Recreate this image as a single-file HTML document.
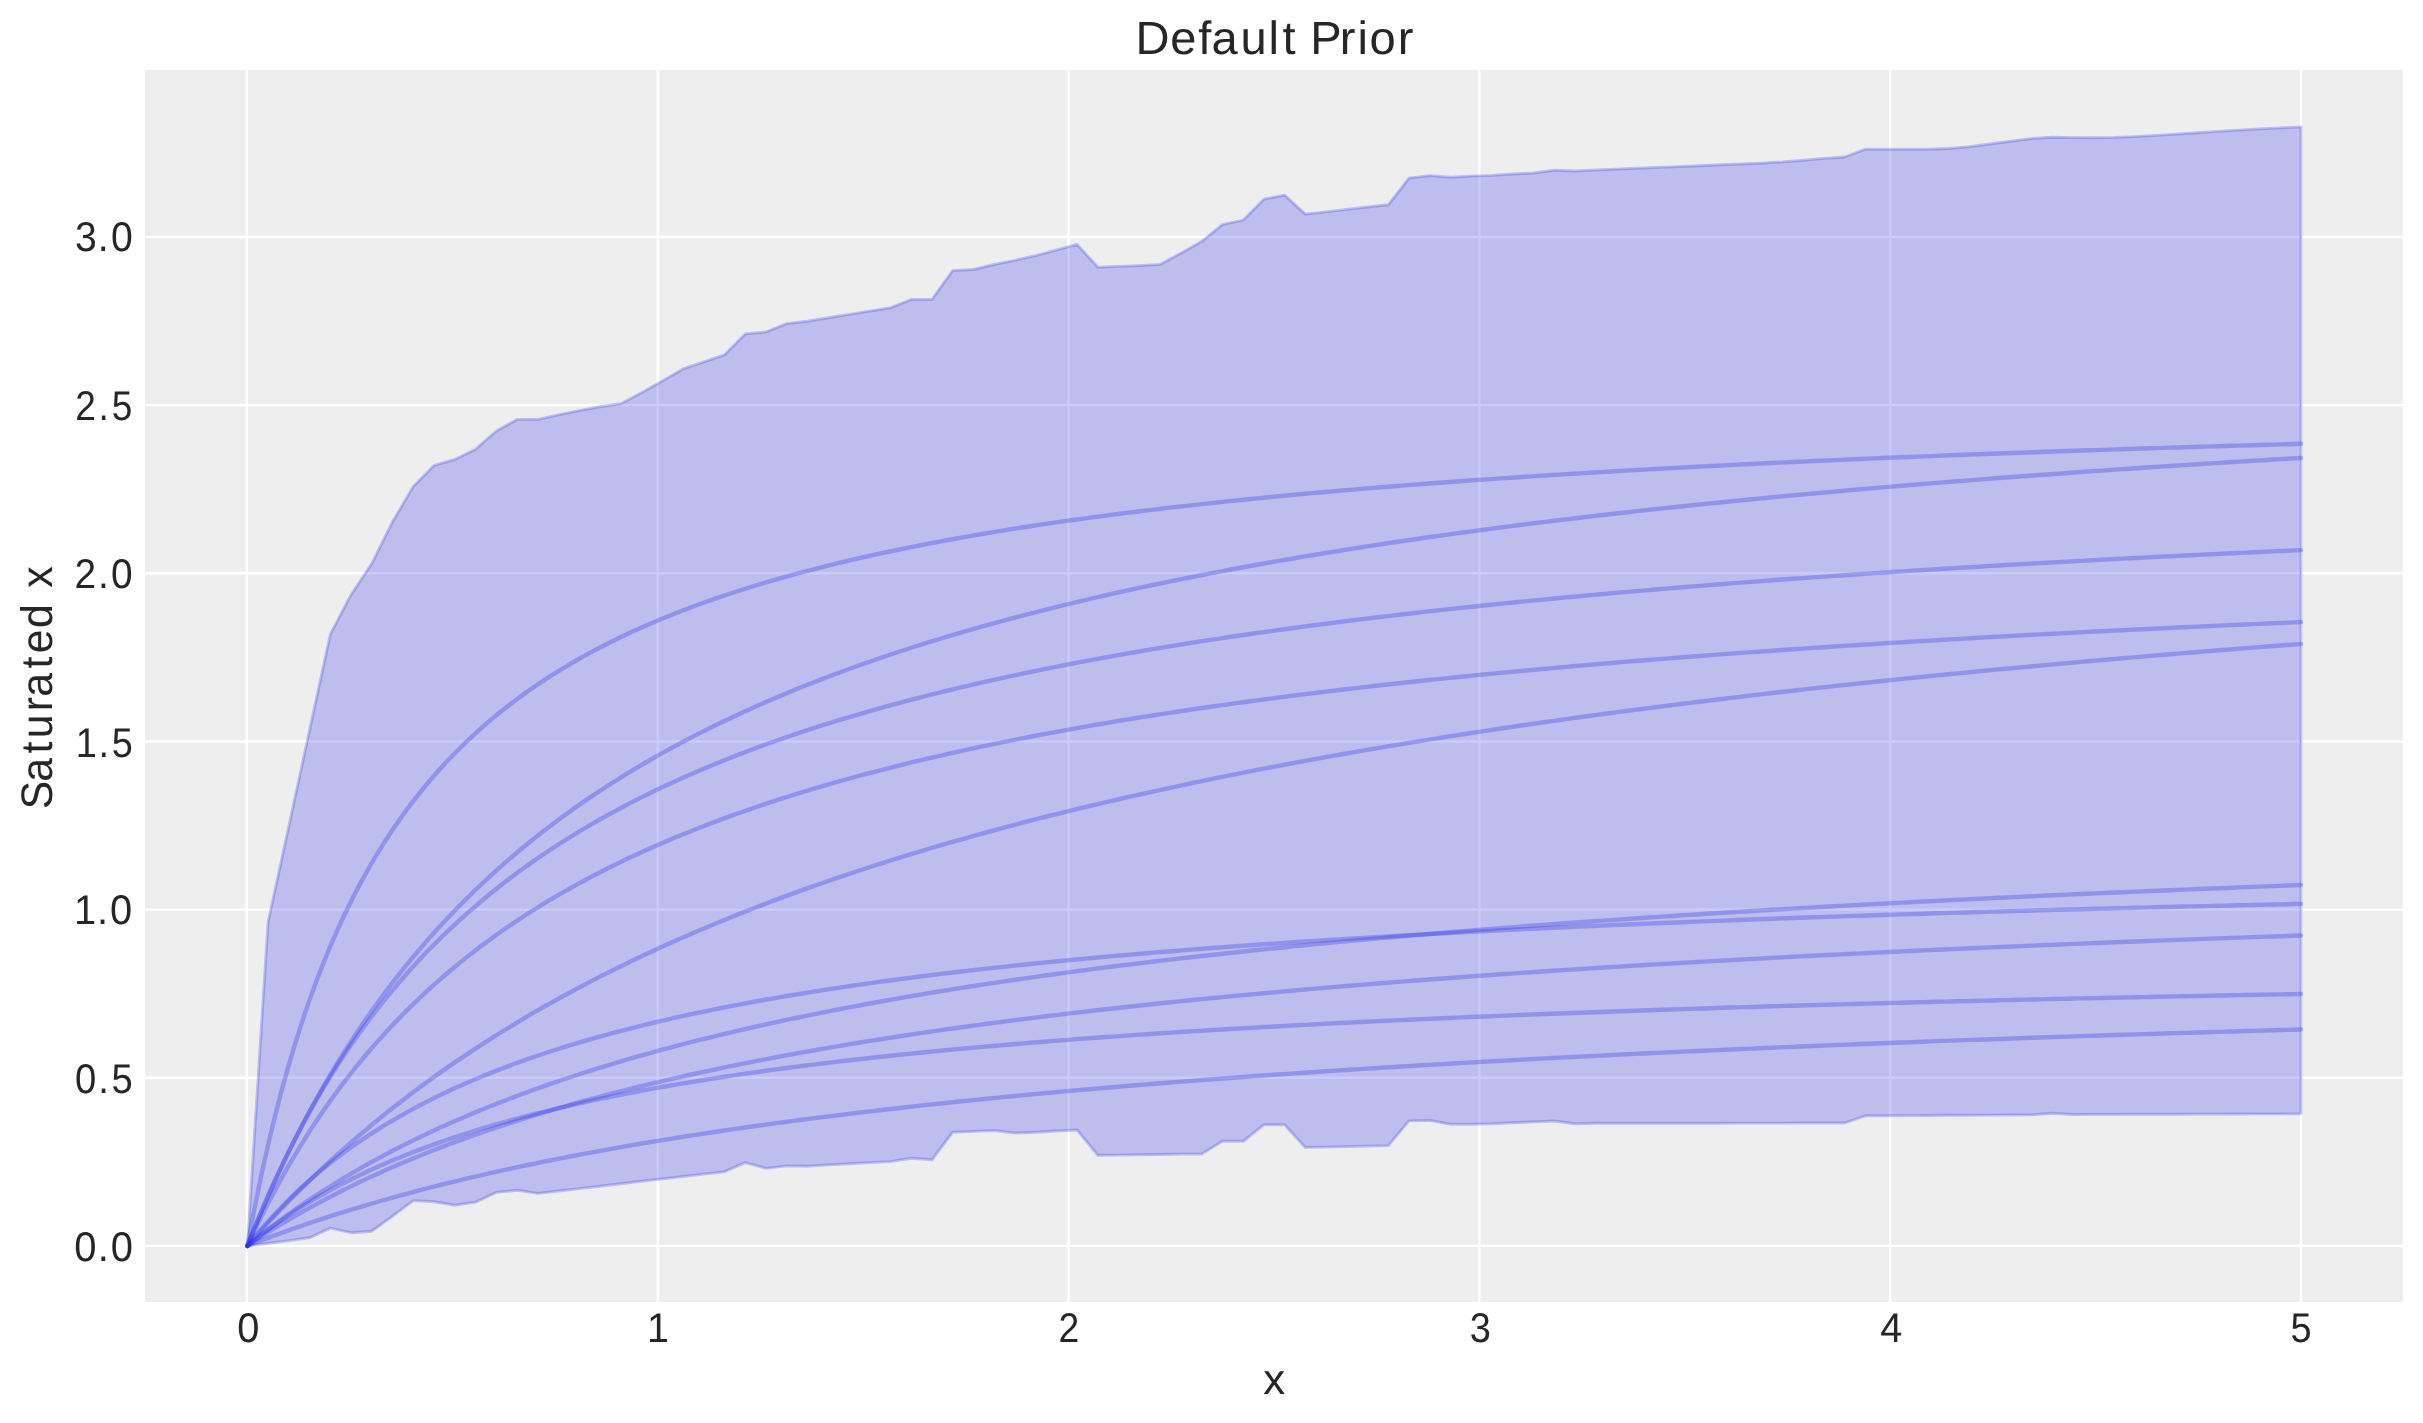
<!DOCTYPE html>
<html><head><meta charset="utf-8"><style>
html,body{margin:0;padding:0;background:#fff;width:2423px;height:1423px;overflow:hidden;font-family:"Liberation Sans",sans-serif}
svg{display:block;will-change:transform} text{text-rendering:geometricPrecision}
</style></head><body>
<svg width="2423" height="1423" viewBox="0 0 2423 1423">
<rect width="2423" height="1423" fill="#fff"/>
<rect x="145" y="70" width="2258" height="1232" fill="#eeeeee"/>
<line x1="246.90" y1="70" x2="246.90" y2="1302" stroke="#fff" stroke-width="2.4"/>
<line x1="657.72" y1="70" x2="657.72" y2="1302" stroke="#fff" stroke-width="2.4"/>
<line x1="1068.54" y1="70" x2="1068.54" y2="1302" stroke="#fff" stroke-width="2.4"/>
<line x1="1479.36" y1="70" x2="1479.36" y2="1302" stroke="#fff" stroke-width="2.4"/>
<line x1="1890.18" y1="70" x2="1890.18" y2="1302" stroke="#fff" stroke-width="2.4"/>
<line x1="2301.00" y1="70" x2="2301.00" y2="1302" stroke="#fff" stroke-width="2.4"/>
<line x1="145" y1="1245.90" x2="2403" y2="1245.90" stroke="#fff" stroke-width="2.4"/>
<line x1="145" y1="1077.75" x2="2403" y2="1077.75" stroke="#fff" stroke-width="2.4"/>
<line x1="145" y1="909.60" x2="2403" y2="909.60" stroke="#fff" stroke-width="2.4"/>
<line x1="145" y1="741.45" x2="2403" y2="741.45" stroke="#fff" stroke-width="2.4"/>
<line x1="145" y1="573.30" x2="2403" y2="573.30" stroke="#fff" stroke-width="2.4"/>
<line x1="145" y1="405.15" x2="2403" y2="405.15" stroke="#fff" stroke-width="2.4"/>
<line x1="145" y1="237.00" x2="2403" y2="237.00" stroke="#fff" stroke-width="2.4"/>
<polygon points="247.4,1245.9 268.1,922.0 288.9,826.0 309.6,730.1 330.4,634.1 351.1,594.7 371.9,563.4 392.6,521.7 413.3,486.5 434.1,465.4 454.8,459.5 475.6,449.2 496.3,431.0 517.1,419.4 537.8,419.4 558.6,414.8 579.3,410.6 600.0,406.8 620.8,403.8 641.5,392.8 662.3,380.9 683.0,368.9 703.8,361.9 724.5,354.8 745.2,333.9 766.0,332.0 786.7,323.6 807.5,321.3 828.2,317.7 849.0,314.4 869.7,311.1 890.4,307.8 911.2,299.5 931.9,299.5 952.7,270.6 973.4,269.5 994.2,264.5 1014.9,260.3 1035.7,255.7 1056.4,249.9 1077.1,244.4 1097.9,267.2 1118.6,266.4 1139.4,265.6 1160.1,264.4 1180.9,253.2 1201.6,241.6 1222.3,224.6 1243.1,220.2 1263.8,199.2 1284.6,195.1 1305.3,214.1 1326.1,211.9 1346.8,209.4 1367.5,207.0 1388.3,204.8 1409.0,178.1 1429.8,175.6 1450.5,177.3 1471.3,176.1 1492.0,175.4 1512.7,174.0 1533.5,173.0 1554.2,170.2 1575.0,171.0 1595.7,170.0 1616.5,169.1 1637.2,168.3 1658.0,167.4 1678.7,166.6 1699.4,165.7 1720.2,164.8 1740.9,164.0 1761.7,163.1 1782.4,161.9 1803.2,160.2 1823.9,158.4 1844.6,157.0 1865.4,149.2 1886.1,149.2 1906.9,149.2 1927.6,149.2 1948.4,148.5 1969.1,146.8 1989.8,144.0 2010.6,141.2 2031.3,138.6 2052.1,137.2 2072.8,137.6 2093.6,137.7 2114.3,137.4 2135.1,136.6 2155.8,135.4 2176.5,134.1 2197.3,132.8 2218.0,131.4 2238.8,130.1 2259.5,128.9 2280.3,127.9 2301.0,127.0 2301.0,1113.8 2280.3,1113.9 2259.5,1113.9 2238.8,1114.0 2218.0,1114.1 2197.3,1114.1 2176.5,1114.2 2155.8,1114.2 2135.1,1114.3 2114.3,1114.4 2093.6,1114.4 2072.8,1114.5 2052.1,1113.2 2031.3,1114.9 2010.6,1115.0 1989.8,1115.1 1969.1,1115.2 1948.4,1115.3 1927.6,1115.5 1906.9,1115.6 1886.1,1115.7 1865.4,1115.8 1844.6,1123.0 1823.9,1123.0 1803.2,1123.0 1782.4,1123.1 1761.7,1123.1 1740.9,1123.1 1720.2,1123.2 1699.4,1123.2 1678.7,1123.2 1658.0,1123.2 1637.2,1123.2 1616.5,1123.3 1595.7,1123.3 1575.0,1123.8 1554.2,1121.0 1533.5,1121.9 1512.7,1122.7 1492.0,1123.8 1471.3,1124.2 1450.5,1124.2 1429.8,1120.4 1409.0,1120.9 1388.3,1145.6 1367.5,1146.1 1346.8,1146.6 1326.1,1147.1 1305.3,1147.4 1284.6,1124.8 1263.8,1124.8 1243.1,1141.3 1222.3,1141.3 1201.6,1154.0 1180.9,1154.1 1160.1,1154.5 1139.4,1154.8 1118.6,1155.1 1097.9,1155.3 1077.1,1130.0 1056.4,1131.0 1035.7,1132.2 1014.9,1133.0 994.2,1130.5 973.4,1131.4 952.7,1132.2 931.9,1159.8 911.2,1158.2 890.4,1161.6 869.7,1162.6 849.0,1163.7 828.2,1164.9 807.5,1166.2 786.7,1165.9 766.0,1168.4 745.2,1162.6 724.5,1171.7 703.8,1174.1 683.0,1176.5 662.3,1178.9 641.5,1181.3 620.8,1183.8 600.0,1186.2 579.3,1188.6 558.6,1191.0 537.8,1193.4 517.1,1190.3 496.3,1192.4 475.6,1202.1 454.8,1205.2 434.1,1201.8 413.3,1200.6 392.6,1216.2 371.9,1231.2 351.1,1232.7 330.4,1228.1 309.6,1237.8 288.9,1240.6 268.1,1243.3 247.4,1245.9" fill="#2a2eec" fill-opacity="0.25" stroke="#2a2eec" stroke-opacity="0.25" stroke-width="2.9" stroke-linejoin="round"/>
<path d="M247.40,1245.90 L254.27,1209.49 L261.14,1176.03 L268.00,1145.17 L274.87,1116.62 L281.74,1090.13 L288.61,1065.49 L295.48,1042.51 L302.35,1021.03 L309.21,1000.90 L316.08,982.00 L322.95,964.22 L329.82,947.47 L336.69,931.66 L343.56,916.71 L350.42,902.55 L357.29,889.12 L364.16,876.37 L371.03,864.25 L377.90,852.71 L384.76,841.70 L391.63,831.21 L398.50,821.18 L405.37,811.59 L412.24,802.41 L419.11,793.62 L425.97,785.18 L432.84,777.09 L439.71,769.31 L446.58,761.84 L453.45,754.65 L460.32,747.73 L467.18,741.06 L474.05,734.63 L480.92,728.43 L487.79,722.44 L494.66,716.66 L501.52,711.07 L508.39,705.66 L515.26,700.43 L522.13,695.37 L529.00,690.46 L535.87,685.71 L542.73,681.10 L549.60,676.63 L556.47,672.29 L563.34,668.08 L570.21,663.99 L577.07,660.01 L583.94,656.15 L590.81,652.39 L597.68,648.73 L604.55,645.18 L611.42,641.71 L618.28,638.34 L625.15,635.05 L632.02,631.85 L638.89,628.72 L645.76,625.68 L652.63,622.71 L659.49,619.81 L666.36,616.98 L673.23,614.21 L680.10,611.52 L686.97,608.88 L693.83,606.30 L700.70,603.78 L707.57,601.32 L714.44,598.91 L721.31,596.56 L728.18,594.25 L735.04,592.00 L741.91,589.79 L748.78,587.63 L755.65,585.51 L762.52,583.44 L769.39,581.41 L776.25,579.42 L783.12,577.47 L789.99,575.55 L796.86,573.68 L803.73,571.84 L810.59,570.03 L817.46,568.26 L824.33,566.53 L831.20,564.82 L838.07,563.15 L844.94,561.51 L851.80,559.89 L858.67,558.31 L865.54,556.75 L872.41,555.22 L879.28,553.72 L886.15,552.25 L893.01,550.79 L899.88,549.37 L906.75,547.97 L913.62,546.59 L920.49,545.23 L927.35,543.90 L934.22,542.59 L941.09,541.30 L947.96,540.03 L954.83,538.78 L961.70,537.55 L968.56,536.33 L975.43,535.14 L982.30,533.97 L989.17,532.81 L996.04,531.68 L1002.91,530.55 L1009.77,529.45 L1016.64,528.36 L1023.51,527.29 L1030.38,526.24 L1037.25,525.19 L1044.11,524.17 L1050.98,523.16 L1057.85,522.16 L1064.72,521.18 L1071.59,520.21 L1078.46,519.25 L1085.32,518.31 L1092.19,517.38 L1099.06,516.47 L1105.93,515.56 L1112.80,514.67 L1119.66,513.79 L1126.53,512.92 L1133.40,512.07 L1140.27,511.22 L1147.14,510.38 L1154.01,509.56 L1160.87,508.75 L1167.74,507.94 L1174.61,507.15 L1181.48,506.37 L1188.35,505.60 L1195.22,504.83 L1202.08,504.08 L1208.95,503.33 L1215.82,502.60 L1222.69,501.87 L1229.56,501.15 L1236.42,500.45 L1243.29,499.74 L1250.16,499.05 L1257.03,498.37 L1263.90,497.69 L1270.77,497.02 L1277.63,496.36 L1284.50,495.71 L1291.37,495.06 L1298.24,494.43 L1305.11,493.79 L1311.98,493.17 L1318.84,492.55 L1325.71,491.94 L1332.58,491.34 L1339.45,490.74 L1346.32,490.15 L1353.18,489.57 L1360.05,488.99 L1366.92,488.42 L1373.79,487.86 L1380.66,487.30 L1387.53,486.74 L1394.39,486.20 L1401.26,485.66 L1408.13,485.12 L1415.00,484.59 L1421.87,484.06 L1428.74,483.55 L1435.60,483.03 L1442.47,482.52 L1449.34,482.02 L1456.21,481.52 L1463.08,481.03 L1469.94,480.54 L1476.81,480.05 L1483.68,479.57 L1490.55,479.10 L1497.42,478.63 L1504.29,478.16 L1511.15,477.70 L1518.02,477.25 L1524.89,476.80 L1531.76,476.35 L1538.63,475.90 L1545.49,475.47 L1552.36,475.03 L1559.23,474.60 L1566.10,474.17 L1572.97,473.75 L1579.84,473.33 L1586.70,472.92 L1593.57,472.50 L1600.44,472.10 L1607.31,471.69 L1614.18,471.29 L1621.05,470.89 L1627.91,470.50 L1634.78,470.11 L1641.65,469.73 L1648.52,469.34 L1655.39,468.96 L1662.25,468.59 L1669.12,468.21 L1675.99,467.84 L1682.86,467.48 L1689.73,467.11 L1696.60,466.75 L1703.46,466.40 L1710.33,466.04 L1717.20,465.69 L1724.07,465.34 L1730.94,465.00 L1737.81,464.66 L1744.67,464.32 L1751.54,463.98 L1758.41,463.65 L1765.28,463.31 L1772.15,462.99 L1779.01,462.66 L1785.88,462.34 L1792.75,462.02 L1799.62,461.70 L1806.49,461.38 L1813.36,461.07 L1820.22,460.76 L1827.09,460.45 L1833.96,460.15 L1840.83,459.84 L1847.70,459.54 L1854.57,459.24 L1861.43,458.95 L1868.30,458.65 L1875.17,458.36 L1882.04,458.07 L1888.91,457.79 L1895.77,457.50 L1902.64,457.22 L1909.51,456.94 L1916.38,456.66 L1923.25,456.38 L1930.12,456.11 L1936.98,455.84 L1943.85,455.57 L1950.72,455.30 L1957.59,455.03 L1964.46,454.77 L1971.33,454.50 L1978.19,454.24 L1985.06,453.98 L1991.93,453.73 L1998.80,453.47 L2005.67,453.22 L2012.53,452.97 L2019.40,452.72 L2026.27,452.47 L2033.14,452.23 L2040.01,451.98 L2046.88,451.74 L2053.74,451.50 L2060.61,451.26 L2067.48,451.02 L2074.35,450.79 L2081.22,450.55 L2088.08,450.32 L2094.95,450.09 L2101.82,449.86 L2108.69,449.63 L2115.56,449.40 L2122.43,449.18 L2129.29,448.96 L2136.16,448.73 L2143.03,448.51 L2149.90,448.29 L2156.77,448.08 L2163.64,447.86 L2170.50,447.65 L2177.37,447.43 L2184.24,447.22 L2191.11,447.01 L2197.98,446.80 L2204.84,446.60 L2211.71,446.39 L2218.58,446.18 L2225.45,445.98 L2232.32,445.78 L2239.19,445.58 L2246.05,445.38 L2252.92,445.18 L2259.79,444.98 L2266.66,444.79 L2273.53,444.59 L2280.40,444.40 L2287.26,444.21 L2294.13,444.01 L2301.00,443.82" fill="none" stroke="#2a2eec" stroke-opacity="0.3" stroke-width="4.4" stroke-linecap="round" stroke-linejoin="round"/>
<path d="M247.40,1245.90 L254.27,1228.84 L261.14,1212.39 L268.00,1196.53 L274.87,1181.21 L281.74,1166.43 L288.61,1152.14 L295.48,1138.32 L302.35,1124.95 L309.21,1112.01 L316.08,1099.48 L322.95,1087.34 L329.82,1075.57 L336.69,1064.15 L343.56,1053.08 L350.42,1042.32 L357.29,1031.88 L364.16,1021.73 L371.03,1011.87 L377.90,1002.27 L384.76,992.94 L391.63,983.86 L398.50,975.03 L405.37,966.42 L412.24,958.03 L419.11,949.86 L425.97,941.90 L432.84,934.13 L439.71,926.55 L446.58,919.16 L453.45,911.94 L460.32,904.90 L467.18,898.02 L474.05,891.30 L480.92,884.73 L487.79,878.31 L494.66,872.04 L501.52,865.90 L508.39,859.90 L515.26,854.03 L522.13,848.28 L529.00,842.66 L535.87,837.15 L542.73,831.76 L549.60,826.48 L556.47,821.30 L563.34,816.23 L570.21,811.26 L577.07,806.39 L583.94,801.62 L590.81,796.93 L597.68,792.34 L604.55,787.83 L611.42,783.41 L618.28,779.07 L625.15,774.81 L632.02,770.63 L638.89,766.52 L645.76,762.49 L652.63,758.52 L659.49,754.63 L666.36,750.81 L673.23,747.05 L680.10,743.36 L686.97,739.73 L693.83,736.16 L700.70,732.66 L707.57,729.20 L714.44,725.81 L721.31,722.47 L728.18,719.19 L735.04,715.96 L741.91,712.78 L748.78,709.65 L755.65,706.57 L762.52,703.54 L769.39,700.55 L776.25,697.61 L783.12,694.72 L789.99,691.87 L796.86,689.06 L803.73,686.29 L810.59,683.57 L817.46,680.88 L824.33,678.23 L831.20,675.63 L838.07,673.05 L844.94,670.52 L851.80,668.02 L858.67,665.56 L865.54,663.13 L872.41,660.73 L879.28,658.37 L886.15,656.04 L893.01,653.74 L899.88,651.47 L906.75,649.24 L913.62,647.03 L920.49,644.85 L927.35,642.70 L934.22,640.58 L941.09,638.48 L947.96,636.42 L954.83,634.38 L961.70,632.36 L968.56,630.37 L975.43,628.41 L982.30,626.47 L989.17,624.55 L996.04,622.66 L1002.91,620.79 L1009.77,618.94 L1016.64,617.12 L1023.51,615.31 L1030.38,613.53 L1037.25,611.77 L1044.11,610.04 L1050.98,608.32 L1057.85,606.62 L1064.72,604.94 L1071.59,603.28 L1078.46,601.64 L1085.32,600.02 L1092.19,598.41 L1099.06,596.83 L1105.93,595.26 L1112.80,593.71 L1119.66,592.18 L1126.53,590.66 L1133.40,589.16 L1140.27,587.68 L1147.14,586.21 L1154.01,584.76 L1160.87,583.33 L1167.74,581.91 L1174.61,580.50 L1181.48,579.11 L1188.35,577.74 L1195.22,576.37 L1202.08,575.03 L1208.95,573.69 L1215.82,572.37 L1222.69,571.07 L1229.56,569.78 L1236.42,568.50 L1243.29,567.23 L1250.16,565.98 L1257.03,564.73 L1263.90,563.50 L1270.77,562.29 L1277.63,561.08 L1284.50,559.89 L1291.37,558.71 L1298.24,557.54 L1305.11,556.38 L1311.98,555.23 L1318.84,554.09 L1325.71,552.97 L1332.58,551.85 L1339.45,550.75 L1346.32,549.65 L1353.18,548.57 L1360.05,547.49 L1366.92,546.43 L1373.79,545.38 L1380.66,544.33 L1387.53,543.30 L1394.39,542.27 L1401.26,541.25 L1408.13,540.25 L1415.00,539.25 L1421.87,538.26 L1428.74,537.28 L1435.60,536.30 L1442.47,535.34 L1449.34,534.39 L1456.21,533.44 L1463.08,532.50 L1469.94,531.57 L1476.81,530.65 L1483.68,529.73 L1490.55,528.83 L1497.42,527.93 L1504.29,527.03 L1511.15,526.15 L1518.02,525.27 L1524.89,524.40 L1531.76,523.54 L1538.63,522.69 L1545.49,521.84 L1552.36,521.00 L1559.23,520.16 L1566.10,519.34 L1572.97,518.52 L1579.84,517.70 L1586.70,516.90 L1593.57,516.10 L1600.44,515.30 L1607.31,514.51 L1614.18,513.73 L1621.05,512.95 L1627.91,512.19 L1634.78,511.42 L1641.65,510.66 L1648.52,509.91 L1655.39,509.17 L1662.25,508.43 L1669.12,507.69 L1675.99,506.96 L1682.86,506.24 L1689.73,505.52 L1696.60,504.81 L1703.46,504.10 L1710.33,503.40 L1717.20,502.70 L1724.07,502.01 L1730.94,501.33 L1737.81,500.65 L1744.67,499.97 L1751.54,499.30 L1758.41,498.63 L1765.28,497.97 L1772.15,497.31 L1779.01,496.66 L1785.88,496.02 L1792.75,495.37 L1799.62,494.73 L1806.49,494.10 L1813.36,493.47 L1820.22,492.85 L1827.09,492.23 L1833.96,491.61 L1840.83,491.00 L1847.70,490.39 L1854.57,489.79 L1861.43,489.19 L1868.30,488.60 L1875.17,488.01 L1882.04,487.42 L1888.91,486.84 L1895.77,486.26 L1902.64,485.69 L1909.51,485.12 L1916.38,484.55 L1923.25,483.99 L1930.12,483.43 L1936.98,482.87 L1943.85,482.32 L1950.72,481.77 L1957.59,481.23 L1964.46,480.69 L1971.33,480.15 L1978.19,479.62 L1985.06,479.09 L1991.93,478.56 L1998.80,478.04 L2005.67,477.52 L2012.53,477.00 L2019.40,476.49 L2026.27,475.98 L2033.14,475.47 L2040.01,474.97 L2046.88,474.47 L2053.74,473.97 L2060.61,473.47 L2067.48,472.98 L2074.35,472.50 L2081.22,472.01 L2088.08,471.53 L2094.95,471.05 L2101.82,470.57 L2108.69,470.10 L2115.56,469.63 L2122.43,469.16 L2129.29,468.70 L2136.16,468.24 L2143.03,467.78 L2149.90,467.32 L2156.77,466.87 L2163.64,466.42 L2170.50,465.97 L2177.37,465.53 L2184.24,465.09 L2191.11,464.65 L2197.98,464.21 L2204.84,463.77 L2211.71,463.34 L2218.58,462.91 L2225.45,462.49 L2232.32,462.06 L2239.19,461.64 L2246.05,461.22 L2252.92,460.80 L2259.79,460.39 L2266.66,459.98 L2273.53,459.57 L2280.40,459.16 L2287.26,458.75 L2294.13,458.35 L2301.00,457.95" fill="none" stroke="#2a2eec" stroke-opacity="0.3" stroke-width="4.4" stroke-linecap="round" stroke-linejoin="round"/>
<path d="M247.40,1245.90 L254.27,1228.51 L261.14,1211.85 L268.00,1195.89 L274.87,1180.59 L281.74,1165.89 L288.61,1151.77 L295.48,1138.19 L302.35,1125.12 L309.21,1112.54 L316.08,1100.42 L322.95,1088.73 L329.82,1077.44 L336.69,1066.55 L343.56,1056.03 L350.42,1045.85 L357.29,1036.01 L364.16,1026.49 L371.03,1017.27 L377.90,1008.34 L384.76,999.68 L391.63,991.28 L398.50,983.14 L405.37,975.23 L412.24,967.56 L419.11,960.10 L425.97,952.85 L432.84,945.80 L439.71,938.95 L446.58,932.28 L453.45,925.79 L460.32,919.47 L467.18,913.32 L474.05,907.32 L480.92,901.47 L487.79,895.77 L494.66,890.21 L501.52,884.79 L508.39,879.50 L515.26,874.33 L522.13,869.28 L529.00,864.36 L535.87,859.54 L542.73,854.84 L549.60,850.24 L556.47,845.74 L563.34,841.34 L570.21,837.04 L577.07,832.82 L583.94,828.70 L590.81,824.67 L597.68,820.72 L604.55,816.85 L611.42,813.06 L618.28,809.35 L625.15,805.71 L632.02,802.14 L638.89,798.64 L645.76,795.21 L652.63,791.85 L659.49,788.55 L666.36,785.31 L673.23,782.14 L680.10,779.02 L686.97,775.96 L693.83,772.95 L700.70,770.00 L707.57,767.10 L714.44,764.26 L721.31,761.46 L728.18,758.71 L735.04,756.01 L741.91,753.35 L748.78,750.74 L755.65,748.18 L762.52,745.65 L769.39,743.17 L776.25,740.73 L783.12,738.33 L789.99,735.97 L796.86,733.64 L803.73,731.36 L810.59,729.10 L817.46,726.89 L824.33,724.71 L831.20,722.56 L838.07,720.44 L844.94,718.36 L851.80,716.30 L858.67,714.28 L865.54,712.29 L872.41,710.33 L879.28,708.39 L886.15,706.49 L893.01,704.61 L899.88,702.76 L906.75,700.93 L913.62,699.13 L920.49,697.36 L927.35,695.61 L934.22,693.88 L941.09,692.18 L947.96,690.50 L954.83,688.84 L961.70,687.21 L968.56,685.60 L975.43,684.01 L982.30,682.44 L989.17,680.89 L996.04,679.36 L1002.91,677.85 L1009.77,676.36 L1016.64,674.89 L1023.51,673.43 L1030.38,672.00 L1037.25,670.58 L1044.11,669.18 L1050.98,667.80 L1057.85,666.44 L1064.72,665.09 L1071.59,663.76 L1078.46,662.44 L1085.32,661.14 L1092.19,659.86 L1099.06,658.59 L1105.93,657.33 L1112.80,656.09 L1119.66,654.87 L1126.53,653.66 L1133.40,652.46 L1140.27,651.28 L1147.14,650.11 L1154.01,648.95 L1160.87,647.80 L1167.74,646.67 L1174.61,645.56 L1181.48,644.45 L1188.35,643.35 L1195.22,642.27 L1202.08,641.20 L1208.95,640.14 L1215.82,639.10 L1222.69,638.06 L1229.56,637.04 L1236.42,636.02 L1243.29,635.02 L1250.16,634.02 L1257.03,633.04 L1263.90,632.07 L1270.77,631.11 L1277.63,630.15 L1284.50,629.21 L1291.37,628.28 L1298.24,627.35 L1305.11,626.44 L1311.98,625.53 L1318.84,624.64 L1325.71,623.75 L1332.58,622.87 L1339.45,622.00 L1346.32,621.14 L1353.18,620.28 L1360.05,619.44 L1366.92,618.60 L1373.79,617.77 L1380.66,616.95 L1387.53,616.14 L1394.39,615.33 L1401.26,614.53 L1408.13,613.74 L1415.00,612.96 L1421.87,612.18 L1428.74,611.42 L1435.60,610.65 L1442.47,609.90 L1449.34,609.15 L1456.21,608.41 L1463.08,607.68 L1469.94,606.95 L1476.81,606.23 L1483.68,605.51 L1490.55,604.80 L1497.42,604.10 L1504.29,603.40 L1511.15,602.71 L1518.02,602.03 L1524.89,601.35 L1531.76,600.68 L1538.63,600.01 L1545.49,599.35 L1552.36,598.69 L1559.23,598.04 L1566.10,597.40 L1572.97,596.76 L1579.84,596.13 L1586.70,595.50 L1593.57,594.88 L1600.44,594.26 L1607.31,593.64 L1614.18,593.04 L1621.05,592.43 L1627.91,591.84 L1634.78,591.24 L1641.65,590.65 L1648.52,590.07 L1655.39,589.49 L1662.25,588.92 L1669.12,588.35 L1675.99,587.78 L1682.86,587.22 L1689.73,586.66 L1696.60,586.11 L1703.46,585.57 L1710.33,585.02 L1717.20,584.48 L1724.07,583.95 L1730.94,583.42 L1737.81,582.89 L1744.67,582.37 L1751.54,581.85 L1758.41,581.33 L1765.28,580.82 L1772.15,580.31 L1779.01,579.81 L1785.88,579.31 L1792.75,578.81 L1799.62,578.32 L1806.49,577.83 L1813.36,577.35 L1820.22,576.86 L1827.09,576.39 L1833.96,575.91 L1840.83,575.44 L1847.70,574.97 L1854.57,574.51 L1861.43,574.04 L1868.30,573.59 L1875.17,573.13 L1882.04,572.68 L1888.91,572.23 L1895.77,571.79 L1902.64,571.34 L1909.51,570.91 L1916.38,570.47 L1923.25,570.04 L1930.12,569.61 L1936.98,569.18 L1943.85,568.75 L1950.72,568.33 L1957.59,567.92 L1964.46,567.50 L1971.33,567.09 L1978.19,566.68 L1985.06,566.27 L1991.93,565.86 L1998.80,565.46 L2005.67,565.06 L2012.53,564.67 L2019.40,564.27 L2026.27,563.88 L2033.14,563.49 L2040.01,563.11 L2046.88,562.72 L2053.74,562.34 L2060.61,561.96 L2067.48,561.59 L2074.35,561.21 L2081.22,560.84 L2088.08,560.47 L2094.95,560.11 L2101.82,559.74 L2108.69,559.38 L2115.56,559.02 L2122.43,558.66 L2129.29,558.31 L2136.16,557.95 L2143.03,557.60 L2149.90,557.25 L2156.77,556.91 L2163.64,556.56 L2170.50,556.22 L2177.37,555.88 L2184.24,555.54 L2191.11,555.21 L2197.98,554.87 L2204.84,554.54 L2211.71,554.21 L2218.58,553.88 L2225.45,553.56 L2232.32,553.23 L2239.19,552.91 L2246.05,552.59 L2252.92,552.27 L2259.79,551.96 L2266.66,551.64 L2273.53,551.33 L2280.40,551.02 L2287.26,550.71 L2294.13,550.40 L2301.00,550.10" fill="none" stroke="#2a2eec" stroke-opacity="0.3" stroke-width="4.4" stroke-linecap="round" stroke-linejoin="round"/>
<path d="M247.40,1245.90 L254.27,1231.18 L261.14,1217.04 L268.00,1203.45 L274.87,1190.39 L281.74,1177.82 L288.61,1165.71 L295.48,1154.04 L302.35,1142.78 L309.21,1131.92 L316.08,1121.43 L322.95,1111.30 L329.82,1101.50 L336.69,1092.02 L343.56,1082.85 L350.42,1073.97 L357.29,1065.36 L364.16,1057.02 L371.03,1048.93 L377.90,1041.08 L384.76,1033.46 L391.63,1026.07 L398.50,1018.88 L405.37,1011.89 L412.24,1005.10 L419.11,998.49 L425.97,992.07 L432.84,985.81 L439.71,979.71 L446.58,973.78 L453.45,968.00 L460.32,962.36 L467.18,956.86 L474.05,951.50 L480.92,946.27 L487.79,941.16 L494.66,936.18 L501.52,931.31 L508.39,926.56 L515.26,921.91 L522.13,917.37 L529.00,912.93 L535.87,908.59 L542.73,904.35 L549.60,900.20 L556.47,896.13 L563.34,892.16 L570.21,888.26 L577.07,884.45 L583.94,880.72 L590.81,877.06 L597.68,873.47 L604.55,869.96 L611.42,866.52 L618.28,863.14 L625.15,859.83 L632.02,856.59 L638.89,853.40 L645.76,850.27 L652.63,847.21 L659.49,844.20 L666.36,841.24 L673.23,838.34 L680.10,835.49 L686.97,832.69 L693.83,829.94 L700.70,827.24 L707.57,824.59 L714.44,821.98 L721.31,819.42 L728.18,816.90 L735.04,814.42 L741.91,811.98 L748.78,809.58 L755.65,807.23 L762.52,804.91 L769.39,802.63 L776.25,800.38 L783.12,798.17 L789.99,796.00 L796.86,793.85 L803.73,791.75 L810.59,789.67 L817.46,787.63 L824.33,785.61 L831.20,783.63 L838.07,781.68 L844.94,779.75 L851.80,777.86 L858.67,775.99 L865.54,774.15 L872.41,772.33 L879.28,770.54 L886.15,768.78 L893.01,767.04 L899.88,765.33 L906.75,763.63 L913.62,761.97 L920.49,760.32 L927.35,758.70 L934.22,757.10 L941.09,755.52 L947.96,753.96 L954.83,752.42 L961.70,750.91 L968.56,749.41 L975.43,747.93 L982.30,746.47 L989.17,745.03 L996.04,743.61 L1002.91,742.21 L1009.77,740.82 L1016.64,739.45 L1023.51,738.10 L1030.38,736.76 L1037.25,735.44 L1044.11,734.14 L1050.98,732.85 L1057.85,731.58 L1064.72,730.33 L1071.59,729.08 L1078.46,727.86 L1085.32,726.65 L1092.19,725.45 L1099.06,724.26 L1105.93,723.09 L1112.80,721.93 L1119.66,720.79 L1126.53,719.66 L1133.40,718.54 L1140.27,717.44 L1147.14,716.34 L1154.01,715.26 L1160.87,714.19 L1167.74,713.13 L1174.61,712.09 L1181.48,711.05 L1188.35,710.03 L1195.22,709.02 L1202.08,708.02 L1208.95,707.02 L1215.82,706.04 L1222.69,705.07 L1229.56,704.11 L1236.42,703.16 L1243.29,702.22 L1250.16,701.29 L1257.03,700.37 L1263.90,699.46 L1270.77,698.56 L1277.63,697.66 L1284.50,696.78 L1291.37,695.90 L1298.24,695.04 L1305.11,694.18 L1311.98,693.33 L1318.84,692.49 L1325.71,691.65 L1332.58,690.83 L1339.45,690.01 L1346.32,689.20 L1353.18,688.40 L1360.05,687.61 L1366.92,686.82 L1373.79,686.04 L1380.66,685.27 L1387.53,684.51 L1394.39,683.75 L1401.26,683.00 L1408.13,682.25 L1415.00,681.52 L1421.87,680.79 L1428.74,680.06 L1435.60,679.35 L1442.47,678.64 L1449.34,677.93 L1456.21,677.23 L1463.08,676.54 L1469.94,675.86 L1476.81,675.18 L1483.68,674.50 L1490.55,673.84 L1497.42,673.18 L1504.29,672.52 L1511.15,671.87 L1518.02,671.22 L1524.89,670.59 L1531.76,669.95 L1538.63,669.32 L1545.49,668.70 L1552.36,668.08 L1559.23,667.47 L1566.10,666.86 L1572.97,666.26 L1579.84,665.66 L1586.70,665.07 L1593.57,664.48 L1600.44,663.90 L1607.31,663.32 L1614.18,662.74 L1621.05,662.18 L1627.91,661.61 L1634.78,661.05 L1641.65,660.50 L1648.52,659.94 L1655.39,659.40 L1662.25,658.86 L1669.12,658.32 L1675.99,657.78 L1682.86,657.25 L1689.73,656.73 L1696.60,656.21 L1703.46,655.69 L1710.33,655.17 L1717.20,654.66 L1724.07,654.16 L1730.94,653.66 L1737.81,653.16 L1744.67,652.66 L1751.54,652.17 L1758.41,651.69 L1765.28,651.20 L1772.15,650.72 L1779.01,650.25 L1785.88,649.77 L1792.75,649.30 L1799.62,648.84 L1806.49,648.37 L1813.36,647.91 L1820.22,647.46 L1827.09,647.01 L1833.96,646.56 L1840.83,646.11 L1847.70,645.67 L1854.57,645.23 L1861.43,644.79 L1868.30,644.36 L1875.17,643.93 L1882.04,643.50 L1888.91,643.07 L1895.77,642.65 L1902.64,642.23 L1909.51,641.82 L1916.38,641.40 L1923.25,640.99 L1930.12,640.58 L1936.98,640.18 L1943.85,639.78 L1950.72,639.38 L1957.59,638.98 L1964.46,638.59 L1971.33,638.20 L1978.19,637.81 L1985.06,637.42 L1991.93,637.04 L1998.80,636.66 L2005.67,636.28 L2012.53,635.90 L2019.40,635.53 L2026.27,635.16 L2033.14,634.79 L2040.01,634.42 L2046.88,634.06 L2053.74,633.70 L2060.61,633.34 L2067.48,632.98 L2074.35,632.63 L2081.22,632.27 L2088.08,631.92 L2094.95,631.57 L2101.82,631.23 L2108.69,630.88 L2115.56,630.54 L2122.43,630.20 L2129.29,629.87 L2136.16,629.53 L2143.03,629.20 L2149.90,628.87 L2156.77,628.54 L2163.64,628.21 L2170.50,627.89 L2177.37,627.56 L2184.24,627.24 L2191.11,626.92 L2197.98,626.60 L2204.84,626.29 L2211.71,625.98 L2218.58,625.66 L2225.45,625.35 L2232.32,625.05 L2239.19,624.74 L2246.05,624.44 L2252.92,624.13 L2259.79,623.83 L2266.66,623.53 L2273.53,623.24 L2280.40,622.94 L2287.26,622.65 L2294.13,622.35 L2301.00,622.06" fill="none" stroke="#2a2eec" stroke-opacity="0.3" stroke-width="4.4" stroke-linecap="round" stroke-linejoin="round"/>
<path d="M247.40,1245.90 L254.27,1238.12 L261.14,1230.48 L268.00,1222.99 L274.87,1215.64 L281.74,1208.43 L288.61,1201.35 L295.48,1194.40 L302.35,1187.57 L309.21,1180.86 L316.08,1174.28 L322.95,1167.81 L329.82,1161.45 L336.69,1155.20 L343.56,1149.06 L350.42,1143.02 L357.29,1137.08 L364.16,1131.24 L371.03,1125.50 L377.90,1119.86 L384.76,1114.30 L391.63,1108.83 L398.50,1103.46 L405.37,1098.16 L412.24,1092.95 L419.11,1087.83 L425.97,1082.78 L432.84,1077.81 L439.71,1072.91 L446.58,1068.09 L453.45,1063.34 L460.32,1058.66 L467.18,1054.06 L474.05,1049.52 L480.92,1045.04 L487.79,1040.63 L494.66,1036.29 L501.52,1032.00 L508.39,1027.78 L515.26,1023.62 L522.13,1019.51 L529.00,1015.46 L535.87,1011.47 L542.73,1007.53 L549.60,1003.65 L556.47,999.82 L563.34,996.04 L570.21,992.31 L577.07,988.63 L583.94,984.99 L590.81,981.41 L597.68,977.87 L604.55,974.38 L611.42,970.93 L618.28,967.53 L625.15,964.17 L632.02,960.85 L638.89,957.57 L645.76,954.34 L652.63,951.14 L659.49,947.98 L666.36,944.86 L673.23,941.78 L680.10,938.74 L686.97,935.73 L693.83,932.76 L700.70,929.83 L707.57,926.92 L714.44,924.06 L721.31,921.22 L728.18,918.42 L735.04,915.65 L741.91,912.91 L748.78,910.21 L755.65,907.53 L762.52,904.88 L769.39,902.27 L776.25,899.68 L783.12,897.12 L789.99,894.59 L796.86,892.09 L803.73,889.61 L810.59,887.16 L817.46,884.74 L824.33,882.34 L831.20,879.97 L838.07,877.63 L844.94,875.31 L851.80,873.01 L858.67,870.74 L865.54,868.49 L872.41,866.26 L879.28,864.06 L886.15,861.87 L893.01,859.72 L899.88,857.58 L906.75,855.46 L913.62,853.37 L920.49,851.29 L927.35,849.24 L934.22,847.21 L941.09,845.20 L947.96,843.20 L954.83,841.23 L961.70,839.27 L968.56,837.34 L975.43,835.42 L982.30,833.52 L989.17,831.64 L996.04,829.77 L1002.91,827.93 L1009.77,826.10 L1016.64,824.29 L1023.51,822.49 L1030.38,820.71 L1037.25,818.95 L1044.11,817.21 L1050.98,815.48 L1057.85,813.76 L1064.72,812.06 L1071.59,810.38 L1078.46,808.71 L1085.32,807.06 L1092.19,805.42 L1099.06,803.79 L1105.93,802.18 L1112.80,800.58 L1119.66,799.00 L1126.53,797.43 L1133.40,795.88 L1140.27,794.33 L1147.14,792.81 L1154.01,791.29 L1160.87,789.79 L1167.74,788.30 L1174.61,786.82 L1181.48,785.35 L1188.35,783.90 L1195.22,782.46 L1202.08,781.03 L1208.95,779.61 L1215.82,778.20 L1222.69,776.81 L1229.56,775.43 L1236.42,774.06 L1243.29,772.69 L1250.16,771.34 L1257.03,770.01 L1263.90,768.68 L1270.77,767.36 L1277.63,766.05 L1284.50,764.75 L1291.37,763.47 L1298.24,762.19 L1305.11,760.92 L1311.98,759.67 L1318.84,758.42 L1325.71,757.18 L1332.58,755.95 L1339.45,754.73 L1346.32,753.52 L1353.18,752.32 L1360.05,751.13 L1366.92,749.95 L1373.79,748.77 L1380.66,747.61 L1387.53,746.45 L1394.39,745.30 L1401.26,744.17 L1408.13,743.03 L1415.00,741.91 L1421.87,740.80 L1428.74,739.69 L1435.60,738.59 L1442.47,737.50 L1449.34,736.42 L1456.21,735.35 L1463.08,734.28 L1469.94,733.22 L1476.81,732.17 L1483.68,731.12 L1490.55,730.08 L1497.42,729.05 L1504.29,728.03 L1511.15,727.02 L1518.02,726.01 L1524.89,725.01 L1531.76,724.01 L1538.63,723.02 L1545.49,722.04 L1552.36,721.07 L1559.23,720.10 L1566.10,719.14 L1572.97,718.18 L1579.84,717.24 L1586.70,716.29 L1593.57,715.36 L1600.44,714.43 L1607.31,713.51 L1614.18,712.59 L1621.05,711.68 L1627.91,710.77 L1634.78,709.87 L1641.65,708.98 L1648.52,708.09 L1655.39,707.21 L1662.25,706.34 L1669.12,705.47 L1675.99,704.60 L1682.86,703.74 L1689.73,702.89 L1696.60,702.04 L1703.46,701.20 L1710.33,700.36 L1717.20,699.53 L1724.07,698.70 L1730.94,697.88 L1737.81,697.06 L1744.67,696.25 L1751.54,695.44 L1758.41,694.64 L1765.28,693.85 L1772.15,693.05 L1779.01,692.27 L1785.88,691.49 L1792.75,690.71 L1799.62,689.94 L1806.49,689.17 L1813.36,688.40 L1820.22,687.65 L1827.09,686.89 L1833.96,686.14 L1840.83,685.40 L1847.70,684.66 L1854.57,683.92 L1861.43,683.19 L1868.30,682.46 L1875.17,681.74 L1882.04,681.02 L1888.91,680.30 L1895.77,679.59 L1902.64,678.89 L1909.51,678.18 L1916.38,677.49 L1923.25,676.79 L1930.12,676.10 L1936.98,675.42 L1943.85,674.73 L1950.72,674.05 L1957.59,673.38 L1964.46,672.71 L1971.33,672.04 L1978.19,671.38 L1985.06,670.72 L1991.93,670.06 L1998.80,669.41 L2005.67,668.76 L2012.53,668.12 L2019.40,667.47 L2026.27,666.84 L2033.14,666.20 L2040.01,665.57 L2046.88,664.94 L2053.74,664.32 L2060.61,663.70 L2067.48,663.08 L2074.35,662.47 L2081.22,661.86 L2088.08,661.25 L2094.95,660.65 L2101.82,660.05 L2108.69,659.45 L2115.56,658.85 L2122.43,658.26 L2129.29,657.67 L2136.16,657.09 L2143.03,656.51 L2149.90,655.93 L2156.77,655.35 L2163.64,654.78 L2170.50,654.21 L2177.37,653.64 L2184.24,653.08 L2191.11,652.52 L2197.98,651.96 L2204.84,651.41 L2211.71,650.85 L2218.58,650.30 L2225.45,649.76 L2232.32,649.21 L2239.19,648.67 L2246.05,648.13 L2252.92,647.60 L2259.79,647.07 L2266.66,646.53 L2273.53,646.01 L2280.40,645.48 L2287.26,644.96 L2294.13,644.44 L2301.00,643.92" fill="none" stroke="#2a2eec" stroke-opacity="0.3" stroke-width="4.4" stroke-linecap="round" stroke-linejoin="round"/>
<path d="M247.40,1245.90 L254.27,1240.29 L261.14,1234.82 L268.00,1229.47 L274.87,1224.26 L281.74,1219.16 L288.61,1214.18 L295.48,1209.32 L302.35,1204.56 L309.21,1199.92 L316.08,1195.37 L322.95,1190.92 L329.82,1186.57 L336.69,1182.31 L343.56,1178.15 L350.42,1174.07 L357.29,1170.07 L364.16,1166.15 L371.03,1162.32 L377.90,1158.56 L384.76,1154.88 L391.63,1151.27 L398.50,1147.72 L405.37,1144.25 L412.24,1140.85 L419.11,1137.50 L425.97,1134.22 L432.84,1131.01 L439.71,1127.85 L446.58,1124.75 L453.45,1121.70 L460.32,1118.71 L467.18,1115.77 L474.05,1112.89 L480.92,1110.05 L487.79,1107.26 L494.66,1104.52 L501.52,1101.83 L508.39,1099.19 L515.26,1096.58 L522.13,1094.02 L529.00,1091.51 L535.87,1089.03 L542.73,1086.59 L549.60,1084.20 L556.47,1081.84 L563.34,1079.51 L570.21,1077.23 L577.07,1074.98 L583.94,1072.76 L590.81,1070.58 L597.68,1068.43 L604.55,1066.32 L611.42,1064.23 L618.28,1062.18 L625.15,1060.16 L632.02,1058.16 L638.89,1056.20 L645.76,1054.26 L652.63,1052.35 L659.49,1050.47 L666.36,1048.62 L673.23,1046.79 L680.10,1044.98 L686.97,1043.21 L693.83,1041.45 L700.70,1039.72 L707.57,1038.02 L714.44,1036.33 L721.31,1034.67 L728.18,1033.03 L735.04,1031.41 L741.91,1029.82 L748.78,1028.24 L755.65,1026.69 L762.52,1025.15 L769.39,1023.64 L776.25,1022.14 L783.12,1020.66 L789.99,1019.20 L796.86,1017.76 L803.73,1016.34 L810.59,1014.93 L817.46,1013.55 L824.33,1012.17 L831.20,1010.82 L838.07,1009.48 L844.94,1008.16 L851.80,1006.85 L858.67,1005.56 L865.54,1004.28 L872.41,1003.02 L879.28,1001.77 L886.15,1000.54 L893.01,999.32 L899.88,998.12 L906.75,996.93 L913.62,995.75 L920.49,994.58 L927.35,993.43 L934.22,992.29 L941.09,991.17 L947.96,990.05 L954.83,988.95 L961.70,987.86 L968.56,986.78 L975.43,985.72 L982.30,984.66 L989.17,983.62 L996.04,982.59 L1002.91,981.56 L1009.77,980.55 L1016.64,979.55 L1023.51,978.56 L1030.38,977.58 L1037.25,976.61 L1044.11,975.65 L1050.98,974.70 L1057.85,973.76 L1064.72,972.82 L1071.59,971.90 L1078.46,970.99 L1085.32,970.08 L1092.19,969.19 L1099.06,968.30 L1105.93,967.42 L1112.80,966.55 L1119.66,965.69 L1126.53,964.84 L1133.40,963.99 L1140.27,963.16 L1147.14,962.33 L1154.01,961.51 L1160.87,960.69 L1167.74,959.89 L1174.61,959.09 L1181.48,958.30 L1188.35,957.51 L1195.22,956.74 L1202.08,955.97 L1208.95,955.21 L1215.82,954.45 L1222.69,953.70 L1229.56,952.96 L1236.42,952.22 L1243.29,951.49 L1250.16,950.77 L1257.03,950.06 L1263.90,949.35 L1270.77,948.64 L1277.63,947.94 L1284.50,947.25 L1291.37,946.57 L1298.24,945.89 L1305.11,945.21 L1311.98,944.54 L1318.84,943.88 L1325.71,943.22 L1332.58,942.57 L1339.45,941.93 L1346.32,941.28 L1353.18,940.65 L1360.05,940.02 L1366.92,939.39 L1373.79,938.77 L1380.66,938.16 L1387.53,937.55 L1394.39,936.94 L1401.26,936.34 L1408.13,935.75 L1415.00,935.16 L1421.87,934.57 L1428.74,933.99 L1435.60,933.41 L1442.47,932.84 L1449.34,932.27 L1456.21,931.71 L1463.08,931.15 L1469.94,930.60 L1476.81,930.05 L1483.68,929.50 L1490.55,928.96 L1497.42,928.42 L1504.29,927.89 L1511.15,927.36 L1518.02,926.83 L1524.89,926.31 L1531.76,925.79 L1538.63,925.28 L1545.49,924.77 L1552.36,924.26 L1559.23,923.76 L1566.10,923.26 L1572.97,922.76 L1579.84,922.27 L1586.70,921.78 L1593.57,921.30 L1600.44,920.82 L1607.31,920.34 L1614.18,919.87 L1621.05,919.39 L1627.91,918.93 L1634.78,918.46 L1641.65,918.00 L1648.52,917.54 L1655.39,917.09 L1662.25,916.64 L1669.12,916.19 L1675.99,915.74 L1682.86,915.30 L1689.73,914.86 L1696.60,914.43 L1703.46,913.99 L1710.33,913.56 L1717.20,913.14 L1724.07,912.71 L1730.94,912.29 L1737.81,911.87 L1744.67,911.46 L1751.54,911.04 L1758.41,910.63 L1765.28,910.23 L1772.15,909.82 L1779.01,909.42 L1785.88,909.02 L1792.75,908.62 L1799.62,908.23 L1806.49,907.84 L1813.36,907.45 L1820.22,907.06 L1827.09,906.68 L1833.96,906.29 L1840.83,905.91 L1847.70,905.54 L1854.57,905.16 L1861.43,904.79 L1868.30,904.42 L1875.17,904.05 L1882.04,903.69 L1888.91,903.33 L1895.77,902.96 L1902.64,902.61 L1909.51,902.25 L1916.38,901.90 L1923.25,901.54 L1930.12,901.19 L1936.98,900.85 L1943.85,900.50 L1950.72,900.16 L1957.59,899.82 L1964.46,899.48 L1971.33,899.14 L1978.19,898.81 L1985.06,898.47 L1991.93,898.14 L1998.80,897.81 L2005.67,897.49 L2012.53,897.16 L2019.40,896.84 L2026.27,896.52 L2033.14,896.20 L2040.01,895.88 L2046.88,895.56 L2053.74,895.25 L2060.61,894.94 L2067.48,894.63 L2074.35,894.32 L2081.22,894.01 L2088.08,893.71 L2094.95,893.40 L2101.82,893.10 L2108.69,892.80 L2115.56,892.50 L2122.43,892.21 L2129.29,891.91 L2136.16,891.62 L2143.03,891.33 L2149.90,891.04 L2156.77,890.75 L2163.64,890.46 L2170.50,890.18 L2177.37,889.90 L2184.24,889.61 L2191.11,889.33 L2197.98,889.06 L2204.84,888.78 L2211.71,888.50 L2218.58,888.23 L2225.45,887.96 L2232.32,887.68 L2239.19,887.41 L2246.05,887.15 L2252.92,886.88 L2259.79,886.61 L2266.66,886.35 L2273.53,886.09 L2280.40,885.83 L2287.26,885.57 L2294.13,885.31 L2301.00,885.05" fill="none" stroke="#2a2eec" stroke-opacity="0.3" stroke-width="4.4" stroke-linecap="round" stroke-linejoin="round"/>
<path d="M247.40,1245.90 L254.27,1237.38 L261.14,1229.22 L268.00,1221.40 L274.87,1213.90 L281.74,1206.69 L288.61,1199.77 L295.48,1193.11 L302.35,1186.71 L309.21,1180.54 L316.08,1174.59 L322.95,1168.85 L329.82,1163.32 L336.69,1157.97 L343.56,1152.81 L350.42,1147.82 L357.29,1142.99 L364.16,1138.31 L371.03,1133.79 L377.90,1129.40 L384.76,1125.15 L391.63,1121.03 L398.50,1117.03 L405.37,1113.14 L412.24,1109.37 L419.11,1105.71 L425.97,1102.15 L432.84,1098.69 L439.71,1095.32 L446.58,1092.04 L453.45,1088.85 L460.32,1085.75 L467.18,1082.72 L474.05,1079.78 L480.92,1076.90 L487.79,1074.10 L494.66,1071.37 L501.52,1068.70 L508.39,1066.10 L515.26,1063.56 L522.13,1061.08 L529.00,1058.66 L535.87,1056.29 L542.73,1053.97 L549.60,1051.71 L556.47,1049.50 L563.34,1047.34 L570.21,1045.22 L577.07,1043.15 L583.94,1041.12 L590.81,1039.14 L597.68,1037.19 L604.55,1035.29 L611.42,1033.43 L618.28,1031.60 L625.15,1029.81 L632.02,1028.05 L638.89,1026.33 L645.76,1024.65 L652.63,1022.99 L659.49,1021.37 L666.36,1019.77 L673.23,1018.21 L680.10,1016.68 L686.97,1015.17 L693.83,1013.69 L700.70,1012.24 L707.57,1010.81 L714.44,1009.41 L721.31,1008.03 L728.18,1006.68 L735.04,1005.35 L741.91,1004.04 L748.78,1002.76 L755.65,1001.50 L762.52,1000.25 L769.39,999.03 L776.25,997.83 L783.12,996.65 L789.99,995.49 L796.86,994.34 L803.73,993.21 L810.59,992.11 L817.46,991.01 L824.33,989.94 L831.20,988.88 L838.07,987.84 L844.94,986.81 L851.80,985.80 L858.67,984.81 L865.54,983.83 L872.41,982.86 L879.28,981.91 L886.15,980.97 L893.01,980.04 L899.88,979.13 L906.75,978.23 L913.62,977.34 L920.49,976.47 L927.35,975.61 L934.22,974.76 L941.09,973.92 L947.96,973.09 L954.83,972.28 L961.70,971.47 L968.56,970.68 L975.43,969.89 L982.30,969.12 L989.17,968.36 L996.04,967.60 L1002.91,966.86 L1009.77,966.13 L1016.64,965.40 L1023.51,964.69 L1030.38,963.98 L1037.25,963.28 L1044.11,962.59 L1050.98,961.91 L1057.85,961.24 L1064.72,960.57 L1071.59,959.92 L1078.46,959.27 L1085.32,958.63 L1092.19,958.00 L1099.06,957.37 L1105.93,956.75 L1112.80,956.14 L1119.66,955.54 L1126.53,954.94 L1133.40,954.35 L1140.27,953.77 L1147.14,953.19 L1154.01,952.62 L1160.87,952.06 L1167.74,951.50 L1174.61,950.95 L1181.48,950.40 L1188.35,949.86 L1195.22,949.33 L1202.08,948.80 L1208.95,948.28 L1215.82,947.77 L1222.69,947.26 L1229.56,946.75 L1236.42,946.25 L1243.29,945.76 L1250.16,945.27 L1257.03,944.78 L1263.90,944.30 L1270.77,943.83 L1277.63,943.36 L1284.50,942.89 L1291.37,942.43 L1298.24,941.98 L1305.11,941.53 L1311.98,941.08 L1318.84,940.64 L1325.71,940.20 L1332.58,939.77 L1339.45,939.34 L1346.32,938.91 L1353.18,938.49 L1360.05,938.08 L1366.92,937.66 L1373.79,937.26 L1380.66,936.85 L1387.53,936.45 L1394.39,936.05 L1401.26,935.66 L1408.13,935.27 L1415.00,934.88 L1421.87,934.50 L1428.74,934.12 L1435.60,933.75 L1442.47,933.37 L1449.34,933.01 L1456.21,932.64 L1463.08,932.28 L1469.94,931.92 L1476.81,931.56 L1483.68,931.21 L1490.55,930.86 L1497.42,930.51 L1504.29,930.17 L1511.15,929.83 L1518.02,929.49 L1524.89,929.16 L1531.76,928.83 L1538.63,928.50 L1545.49,928.17 L1552.36,927.85 L1559.23,927.53 L1566.10,927.21 L1572.97,926.90 L1579.84,926.58 L1586.70,926.27 L1593.57,925.97 L1600.44,925.66 L1607.31,925.36 L1614.18,925.06 L1621.05,924.76 L1627.91,924.47 L1634.78,924.18 L1641.65,923.89 L1648.52,923.60 L1655.39,923.31 L1662.25,923.03 L1669.12,922.75 L1675.99,922.47 L1682.86,922.19 L1689.73,921.92 L1696.60,921.65 L1703.46,921.38 L1710.33,921.11 L1717.20,920.84 L1724.07,920.58 L1730.94,920.32 L1737.81,920.06 L1744.67,919.80 L1751.54,919.54 L1758.41,919.29 L1765.28,919.04 L1772.15,918.79 L1779.01,918.54 L1785.88,918.29 L1792.75,918.05 L1799.62,917.80 L1806.49,917.56 L1813.36,917.32 L1820.22,917.09 L1827.09,916.85 L1833.96,916.62 L1840.83,916.38 L1847.70,916.15 L1854.57,915.92 L1861.43,915.70 L1868.30,915.47 L1875.17,915.25 L1882.04,915.02 L1888.91,914.80 L1895.77,914.58 L1902.64,914.36 L1909.51,914.15 L1916.38,913.93 L1923.25,913.72 L1930.12,913.51 L1936.98,913.30 L1943.85,913.09 L1950.72,912.88 L1957.59,912.67 L1964.46,912.47 L1971.33,912.26 L1978.19,912.06 L1985.06,911.86 L1991.93,911.66 L1998.80,911.46 L2005.67,911.27 L2012.53,911.07 L2019.40,910.88 L2026.27,910.68 L2033.14,910.49 L2040.01,910.30 L2046.88,910.11 L2053.74,909.92 L2060.61,909.74 L2067.48,909.55 L2074.35,909.37 L2081.22,909.18 L2088.08,909.00 L2094.95,908.82 L2101.82,908.64 L2108.69,908.46 L2115.56,908.29 L2122.43,908.11 L2129.29,907.93 L2136.16,907.76 L2143.03,907.59 L2149.90,907.41 L2156.77,907.24 L2163.64,907.07 L2170.50,906.90 L2177.37,906.74 L2184.24,906.57 L2191.11,906.40 L2197.98,906.24 L2204.84,906.08 L2211.71,905.91 L2218.58,905.75 L2225.45,905.59 L2232.32,905.43 L2239.19,905.27 L2246.05,905.11 L2252.92,904.96 L2259.79,904.80 L2266.66,904.65 L2273.53,904.49 L2280.40,904.34 L2287.26,904.19 L2294.13,904.03 L2301.00,903.88" fill="none" stroke="#2a2eec" stroke-opacity="0.3" stroke-width="4.4" stroke-linecap="round" stroke-linejoin="round"/>
<path d="M247.40,1245.90 L254.27,1241.31 L261.14,1236.83 L268.00,1232.45 L274.87,1228.17 L281.74,1223.98 L288.61,1219.88 L295.48,1215.87 L302.35,1211.94 L309.21,1208.10 L316.08,1204.34 L322.95,1200.65 L329.82,1197.04 L336.69,1193.50 L343.56,1190.03 L350.42,1186.64 L357.29,1183.30 L364.16,1180.04 L371.03,1176.83 L377.90,1173.69 L384.76,1170.60 L391.63,1167.57 L398.50,1164.60 L405.37,1161.68 L412.24,1158.82 L419.11,1156.01 L425.97,1153.24 L432.84,1150.53 L439.71,1147.86 L446.58,1145.24 L453.45,1142.67 L460.32,1140.14 L467.18,1137.65 L474.05,1135.20 L480.92,1132.80 L487.79,1130.43 L494.66,1128.10 L501.52,1125.82 L508.39,1123.56 L515.26,1121.35 L522.13,1119.16 L529.00,1117.02 L535.87,1114.90 L542.73,1112.82 L549.60,1110.77 L556.47,1108.76 L563.34,1106.77 L570.21,1104.81 L577.07,1102.88 L583.94,1100.98 L590.81,1099.11 L597.68,1097.27 L604.55,1095.45 L611.42,1093.66 L618.28,1091.89 L625.15,1090.15 L632.02,1088.43 L638.89,1086.74 L645.76,1085.07 L652.63,1083.42 L659.49,1081.80 L666.36,1080.20 L673.23,1078.62 L680.10,1077.06 L686.97,1075.52 L693.83,1074.00 L700.70,1072.50 L707.57,1071.03 L714.44,1069.57 L721.31,1068.13 L728.18,1066.70 L735.04,1065.30 L741.91,1063.91 L748.78,1062.55 L755.65,1061.19 L762.52,1059.86 L769.39,1058.54 L776.25,1057.24 L783.12,1055.95 L789.99,1054.68 L796.86,1053.43 L803.73,1052.18 L810.59,1050.96 L817.46,1049.75 L824.33,1048.55 L831.20,1047.37 L838.07,1046.20 L844.94,1045.04 L851.80,1043.90 L858.67,1042.77 L865.54,1041.65 L872.41,1040.55 L879.28,1039.46 L886.15,1038.38 L893.01,1037.31 L899.88,1036.26 L906.75,1035.21 L913.62,1034.18 L920.49,1033.16 L927.35,1032.15 L934.22,1031.15 L941.09,1030.16 L947.96,1029.18 L954.83,1028.21 L961.70,1027.25 L968.56,1026.30 L975.43,1025.37 L982.30,1024.44 L989.17,1023.52 L996.04,1022.61 L1002.91,1021.71 L1009.77,1020.82 L1016.64,1019.94 L1023.51,1019.06 L1030.38,1018.20 L1037.25,1017.34 L1044.11,1016.50 L1050.98,1015.66 L1057.85,1014.83 L1064.72,1014.00 L1071.59,1013.19 L1078.46,1012.38 L1085.32,1011.58 L1092.19,1010.79 L1099.06,1010.01 L1105.93,1009.23 L1112.80,1008.46 L1119.66,1007.70 L1126.53,1006.94 L1133.40,1006.20 L1140.27,1005.46 L1147.14,1004.72 L1154.01,1003.99 L1160.87,1003.27 L1167.74,1002.56 L1174.61,1001.85 L1181.48,1001.15 L1188.35,1000.46 L1195.22,999.77 L1202.08,999.08 L1208.95,998.41 L1215.82,997.74 L1222.69,997.07 L1229.56,996.41 L1236.42,995.76 L1243.29,995.11 L1250.16,994.47 L1257.03,993.83 L1263.90,993.20 L1270.77,992.57 L1277.63,991.95 L1284.50,991.34 L1291.37,990.73 L1298.24,990.12 L1305.11,989.52 L1311.98,988.93 L1318.84,988.34 L1325.71,987.75 L1332.58,987.17 L1339.45,986.60 L1346.32,986.03 L1353.18,985.46 L1360.05,984.90 L1366.92,984.34 L1373.79,983.79 L1380.66,983.24 L1387.53,982.69 L1394.39,982.15 L1401.26,981.62 L1408.13,981.09 L1415.00,980.56 L1421.87,980.04 L1428.74,979.52 L1435.60,979.00 L1442.47,978.49 L1449.34,977.98 L1456.21,977.48 L1463.08,976.98 L1469.94,976.49 L1476.81,975.99 L1483.68,975.51 L1490.55,975.02 L1497.42,974.54 L1504.29,974.06 L1511.15,973.59 L1518.02,973.12 L1524.89,972.65 L1531.76,972.19 L1538.63,971.73 L1545.49,971.27 L1552.36,970.82 L1559.23,970.37 L1566.10,969.92 L1572.97,969.48 L1579.84,969.03 L1586.70,968.60 L1593.57,968.16 L1600.44,967.73 L1607.31,967.30 L1614.18,966.88 L1621.05,966.45 L1627.91,966.04 L1634.78,965.62 L1641.65,965.21 L1648.52,964.79 L1655.39,964.39 L1662.25,963.98 L1669.12,963.58 L1675.99,963.18 L1682.86,962.78 L1689.73,962.39 L1696.60,962.00 L1703.46,961.61 L1710.33,961.22 L1717.20,960.84 L1724.07,960.46 L1730.94,960.08 L1737.81,959.70 L1744.67,959.33 L1751.54,958.96 L1758.41,958.59 L1765.28,958.22 L1772.15,957.86 L1779.01,957.49 L1785.88,957.14 L1792.75,956.78 L1799.62,956.42 L1806.49,956.07 L1813.36,955.72 L1820.22,955.37 L1827.09,955.03 L1833.96,954.68 L1840.83,954.34 L1847.70,954.00 L1854.57,953.66 L1861.43,953.33 L1868.30,953.00 L1875.17,952.66 L1882.04,952.34 L1888.91,952.01 L1895.77,951.68 L1902.64,951.36 L1909.51,951.04 L1916.38,950.72 L1923.25,950.40 L1930.12,950.09 L1936.98,949.77 L1943.85,949.46 L1950.72,949.15 L1957.59,948.85 L1964.46,948.54 L1971.33,948.24 L1978.19,947.93 L1985.06,947.63 L1991.93,947.33 L1998.80,947.04 L2005.67,946.74 L2012.53,946.45 L2019.40,946.16 L2026.27,945.87 L2033.14,945.58 L2040.01,945.29 L2046.88,945.01 L2053.74,944.72 L2060.61,944.44 L2067.48,944.16 L2074.35,943.88 L2081.22,943.60 L2088.08,943.33 L2094.95,943.05 L2101.82,942.78 L2108.69,942.51 L2115.56,942.24 L2122.43,941.97 L2129.29,941.71 L2136.16,941.44 L2143.03,941.18 L2149.90,940.92 L2156.77,940.66 L2163.64,940.40 L2170.50,940.14 L2177.37,939.88 L2184.24,939.63 L2191.11,939.37 L2197.98,939.12 L2204.84,938.87 L2211.71,938.62 L2218.58,938.37 L2225.45,938.13 L2232.32,937.88 L2239.19,937.64 L2246.05,937.39 L2252.92,937.15 L2259.79,936.91 L2266.66,936.67 L2273.53,936.43 L2280.40,936.20 L2287.26,935.96 L2294.13,935.73 L2301.00,935.50" fill="none" stroke="#2a2eec" stroke-opacity="0.3" stroke-width="4.4" stroke-linecap="round" stroke-linejoin="round"/>
<path d="M247.40,1245.90 L254.27,1240.32 L261.14,1234.94 L268.00,1229.76 L274.87,1224.77 L281.74,1219.95 L288.61,1215.30 L295.48,1210.80 L302.35,1206.46 L309.21,1202.25 L316.08,1198.19 L322.95,1194.25 L329.82,1190.43 L336.69,1186.74 L343.56,1183.15 L350.42,1179.67 L357.29,1176.30 L364.16,1173.02 L371.03,1169.83 L377.90,1166.74 L384.76,1163.73 L391.63,1160.81 L398.50,1157.96 L405.37,1155.19 L412.24,1152.49 L419.11,1149.86 L425.97,1147.30 L432.84,1144.81 L439.71,1142.37 L446.58,1140.00 L453.45,1137.68 L460.32,1135.42 L467.18,1133.22 L474.05,1131.07 L480.92,1128.96 L487.79,1126.91 L494.66,1124.90 L501.52,1122.94 L508.39,1121.02 L515.26,1119.14 L522.13,1117.30 L529.00,1115.50 L535.87,1113.75 L542.73,1112.02 L549.60,1110.34 L556.47,1108.69 L563.34,1107.07 L570.21,1105.48 L577.07,1103.93 L583.94,1102.41 L590.81,1100.92 L597.68,1099.45 L604.55,1098.02 L611.42,1096.61 L618.28,1095.23 L625.15,1093.87 L632.02,1092.54 L638.89,1091.24 L645.76,1089.95 L652.63,1088.70 L659.49,1087.46 L666.36,1086.24 L673.23,1085.05 L680.10,1083.88 L686.97,1082.73 L693.83,1081.59 L700.70,1080.48 L707.57,1079.38 L714.44,1078.31 L721.31,1077.25 L728.18,1076.21 L735.04,1075.18 L741.91,1074.18 L748.78,1073.18 L755.65,1072.21 L762.52,1071.25 L769.39,1070.30 L776.25,1069.37 L783.12,1068.45 L789.99,1067.55 L796.86,1066.66 L803.73,1065.79 L810.59,1064.92 L817.46,1064.07 L824.33,1063.24 L831.20,1062.41 L838.07,1061.60 L844.94,1060.80 L851.80,1060.01 L858.67,1059.23 L865.54,1058.46 L872.41,1057.70 L879.28,1056.96 L886.15,1056.22 L893.01,1055.49 L899.88,1054.78 L906.75,1054.07 L913.62,1053.37 L920.49,1052.69 L927.35,1052.01 L934.22,1051.34 L941.09,1050.68 L947.96,1050.03 L954.83,1049.38 L961.70,1048.75 L968.56,1048.12 L975.43,1047.50 L982.30,1046.89 L989.17,1046.28 L996.04,1045.69 L1002.91,1045.10 L1009.77,1044.51 L1016.64,1043.94 L1023.51,1043.37 L1030.38,1042.81 L1037.25,1042.26 L1044.11,1041.71 L1050.98,1041.17 L1057.85,1040.63 L1064.72,1040.10 L1071.59,1039.58 L1078.46,1039.06 L1085.32,1038.55 L1092.19,1038.05 L1099.06,1037.55 L1105.93,1037.06 L1112.80,1036.57 L1119.66,1036.09 L1126.53,1035.61 L1133.40,1035.14 L1140.27,1034.67 L1147.14,1034.21 L1154.01,1033.75 L1160.87,1033.30 L1167.74,1032.85 L1174.61,1032.41 L1181.48,1031.97 L1188.35,1031.54 L1195.22,1031.11 L1202.08,1030.69 L1208.95,1030.27 L1215.82,1029.86 L1222.69,1029.45 L1229.56,1029.04 L1236.42,1028.64 L1243.29,1028.24 L1250.16,1027.85 L1257.03,1027.46 L1263.90,1027.07 L1270.77,1026.69 L1277.63,1026.31 L1284.50,1025.93 L1291.37,1025.56 L1298.24,1025.19 L1305.11,1024.83 L1311.98,1024.47 L1318.84,1024.11 L1325.71,1023.76 L1332.58,1023.41 L1339.45,1023.06 L1346.32,1022.72 L1353.18,1022.38 L1360.05,1022.04 L1366.92,1021.71 L1373.79,1021.38 L1380.66,1021.05 L1387.53,1020.72 L1394.39,1020.40 L1401.26,1020.08 L1408.13,1019.77 L1415.00,1019.45 L1421.87,1019.14 L1428.74,1018.84 L1435.60,1018.53 L1442.47,1018.23 L1449.34,1017.93 L1456.21,1017.63 L1463.08,1017.34 L1469.94,1017.05 L1476.81,1016.76 L1483.68,1016.47 L1490.55,1016.19 L1497.42,1015.90 L1504.29,1015.62 L1511.15,1015.35 L1518.02,1015.07 L1524.89,1014.80 L1531.76,1014.53 L1538.63,1014.26 L1545.49,1014.00 L1552.36,1013.73 L1559.23,1013.47 L1566.10,1013.21 L1572.97,1012.95 L1579.84,1012.70 L1586.70,1012.45 L1593.57,1012.20 L1600.44,1011.95 L1607.31,1011.70 L1614.18,1011.46 L1621.05,1011.21 L1627.91,1010.97 L1634.78,1010.73 L1641.65,1010.49 L1648.52,1010.26 L1655.39,1010.03 L1662.25,1009.79 L1669.12,1009.56 L1675.99,1009.34 L1682.86,1009.11 L1689.73,1008.88 L1696.60,1008.66 L1703.46,1008.44 L1710.33,1008.22 L1717.20,1008.00 L1724.07,1007.79 L1730.94,1007.57 L1737.81,1007.36 L1744.67,1007.15 L1751.54,1006.94 L1758.41,1006.73 L1765.28,1006.52 L1772.15,1006.32 L1779.01,1006.11 L1785.88,1005.91 L1792.75,1005.71 L1799.62,1005.51 L1806.49,1005.31 L1813.36,1005.11 L1820.22,1004.92 L1827.09,1004.72 L1833.96,1004.53 L1840.83,1004.34 L1847.70,1004.15 L1854.57,1003.96 L1861.43,1003.77 L1868.30,1003.59 L1875.17,1003.40 L1882.04,1003.22 L1888.91,1003.04 L1895.77,1002.86 L1902.64,1002.68 L1909.51,1002.50 L1916.38,1002.32 L1923.25,1002.15 L1930.12,1001.97 L1936.98,1001.80 L1943.85,1001.63 L1950.72,1001.45 L1957.59,1001.28 L1964.46,1001.12 L1971.33,1000.95 L1978.19,1000.78 L1985.06,1000.61 L1991.93,1000.45 L1998.80,1000.29 L2005.67,1000.12 L2012.53,999.96 L2019.40,999.80 L2026.27,999.64 L2033.14,999.48 L2040.01,999.33 L2046.88,999.17 L2053.74,999.02 L2060.61,998.86 L2067.48,998.71 L2074.35,998.55 L2081.22,998.40 L2088.08,998.25 L2094.95,998.10 L2101.82,997.95 L2108.69,997.81 L2115.56,997.66 L2122.43,997.51 L2129.29,997.37 L2136.16,997.22 L2143.03,997.08 L2149.90,996.94 L2156.77,996.80 L2163.64,996.66 L2170.50,996.52 L2177.37,996.38 L2184.24,996.24 L2191.11,996.10 L2197.98,995.97 L2204.84,995.83 L2211.71,995.70 L2218.58,995.56 L2225.45,995.43 L2232.32,995.30 L2239.19,995.16 L2246.05,995.03 L2252.92,994.90 L2259.79,994.77 L2266.66,994.64 L2273.53,994.52 L2280.40,994.39 L2287.26,994.26 L2294.13,994.14 L2301.00,994.01" fill="none" stroke="#2a2eec" stroke-opacity="0.3" stroke-width="4.4" stroke-linecap="round" stroke-linejoin="round"/>
<path d="M247.40,1245.90 L254.27,1243.19 L261.14,1240.53 L268.00,1237.92 L274.87,1235.36 L281.74,1232.84 L288.61,1230.37 L295.48,1227.93 L302.35,1225.55 L309.21,1223.20 L316.08,1220.89 L322.95,1218.62 L329.82,1216.39 L336.69,1214.19 L343.56,1212.04 L350.42,1209.91 L357.29,1207.82 L364.16,1205.77 L371.03,1203.75 L377.90,1201.76 L384.76,1199.80 L391.63,1197.87 L398.50,1195.97 L405.37,1194.10 L412.24,1192.26 L419.11,1190.44 L425.97,1188.65 L432.84,1186.89 L439.71,1185.16 L446.58,1183.45 L453.45,1181.77 L460.32,1180.11 L467.18,1178.47 L474.05,1176.86 L480.92,1175.27 L487.79,1173.70 L494.66,1172.15 L501.52,1170.63 L508.39,1169.13 L515.26,1167.64 L522.13,1166.18 L529.00,1164.74 L535.87,1163.31 L542.73,1161.91 L549.60,1160.52 L556.47,1159.15 L563.34,1157.80 L570.21,1156.47 L577.07,1155.15 L583.94,1153.85 L590.81,1152.57 L597.68,1151.30 L604.55,1150.05 L611.42,1148.82 L618.28,1147.60 L625.15,1146.39 L632.02,1145.20 L638.89,1144.02 L645.76,1142.86 L652.63,1141.71 L659.49,1140.58 L666.36,1139.46 L673.23,1138.35 L680.10,1137.26 L686.97,1136.18 L693.83,1135.11 L700.70,1134.05 L707.57,1133.01 L714.44,1131.97 L721.31,1130.95 L728.18,1129.94 L735.04,1128.94 L741.91,1127.96 L748.78,1126.98 L755.65,1126.01 L762.52,1125.06 L769.39,1124.12 L776.25,1123.18 L783.12,1122.26 L789.99,1121.34 L796.86,1120.44 L803.73,1119.54 L810.59,1118.66 L817.46,1117.78 L824.33,1116.91 L831.20,1116.06 L838.07,1115.21 L844.94,1114.37 L851.80,1113.53 L858.67,1112.71 L865.54,1111.89 L872.41,1111.09 L879.28,1110.29 L886.15,1109.50 L893.01,1108.71 L899.88,1107.94 L906.75,1107.17 L913.62,1106.41 L920.49,1105.66 L927.35,1104.91 L934.22,1104.17 L941.09,1103.44 L947.96,1102.72 L954.83,1102.00 L961.70,1101.29 L968.56,1100.59 L975.43,1099.89 L982.30,1099.20 L989.17,1098.51 L996.04,1097.83 L1002.91,1097.16 L1009.77,1096.50 L1016.64,1095.84 L1023.51,1095.18 L1030.38,1094.54 L1037.25,1093.89 L1044.11,1093.26 L1050.98,1092.63 L1057.85,1092.00 L1064.72,1091.38 L1071.59,1090.77 L1078.46,1090.16 L1085.32,1089.56 L1092.19,1088.96 L1099.06,1088.36 L1105.93,1087.78 L1112.80,1087.19 L1119.66,1086.61 L1126.53,1086.04 L1133.40,1085.47 L1140.27,1084.91 L1147.14,1084.35 L1154.01,1083.80 L1160.87,1083.25 L1167.74,1082.70 L1174.61,1082.16 L1181.48,1081.63 L1188.35,1081.09 L1195.22,1080.57 L1202.08,1080.04 L1208.95,1079.53 L1215.82,1079.01 L1222.69,1078.50 L1229.56,1077.99 L1236.42,1077.49 L1243.29,1076.99 L1250.16,1076.50 L1257.03,1076.01 L1263.90,1075.52 L1270.77,1075.04 L1277.63,1074.56 L1284.50,1074.08 L1291.37,1073.61 L1298.24,1073.14 L1305.11,1072.68 L1311.98,1072.22 L1318.84,1071.76 L1325.71,1071.31 L1332.58,1070.86 L1339.45,1070.41 L1346.32,1069.96 L1353.18,1069.52 L1360.05,1069.09 L1366.92,1068.65 L1373.79,1068.22 L1380.66,1067.79 L1387.53,1067.37 L1394.39,1066.95 L1401.26,1066.53 L1408.13,1066.11 L1415.00,1065.70 L1421.87,1065.29 L1428.74,1064.88 L1435.60,1064.48 L1442.47,1064.08 L1449.34,1063.68 L1456.21,1063.29 L1463.08,1062.89 L1469.94,1062.50 L1476.81,1062.12 L1483.68,1061.73 L1490.55,1061.35 L1497.42,1060.97 L1504.29,1060.59 L1511.15,1060.22 L1518.02,1059.85 L1524.89,1059.48 L1531.76,1059.11 L1538.63,1058.75 L1545.49,1058.39 L1552.36,1058.03 L1559.23,1057.67 L1566.10,1057.32 L1572.97,1056.97 L1579.84,1056.62 L1586.70,1056.27 L1593.57,1055.93 L1600.44,1055.58 L1607.31,1055.24 L1614.18,1054.91 L1621.05,1054.57 L1627.91,1054.24 L1634.78,1053.90 L1641.65,1053.57 L1648.52,1053.25 L1655.39,1052.92 L1662.25,1052.60 L1669.12,1052.28 L1675.99,1051.96 L1682.86,1051.64 L1689.73,1051.33 L1696.60,1051.01 L1703.46,1050.70 L1710.33,1050.39 L1717.20,1050.09 L1724.07,1049.78 L1730.94,1049.48 L1737.81,1049.18 L1744.67,1048.88 L1751.54,1048.58 L1758.41,1048.28 L1765.28,1047.99 L1772.15,1047.70 L1779.01,1047.40 L1785.88,1047.12 L1792.75,1046.83 L1799.62,1046.54 L1806.49,1046.26 L1813.36,1045.98 L1820.22,1045.70 L1827.09,1045.42 L1833.96,1045.14 L1840.83,1044.86 L1847.70,1044.59 L1854.57,1044.32 L1861.43,1044.05 L1868.30,1043.78 L1875.17,1043.51 L1882.04,1043.24 L1888.91,1042.98 L1895.77,1042.72 L1902.64,1042.46 L1909.51,1042.20 L1916.38,1041.94 L1923.25,1041.68 L1930.12,1041.42 L1936.98,1041.17 L1943.85,1040.92 L1950.72,1040.67 L1957.59,1040.42 L1964.46,1040.17 L1971.33,1039.92 L1978.19,1039.68 L1985.06,1039.43 L1991.93,1039.19 L1998.80,1038.95 L2005.67,1038.71 L2012.53,1038.47 L2019.40,1038.23 L2026.27,1037.99 L2033.14,1037.76 L2040.01,1037.52 L2046.88,1037.29 L2053.74,1037.06 L2060.61,1036.83 L2067.48,1036.60 L2074.35,1036.37 L2081.22,1036.15 L2088.08,1035.92 L2094.95,1035.70 L2101.82,1035.48 L2108.69,1035.25 L2115.56,1035.03 L2122.43,1034.81 L2129.29,1034.60 L2136.16,1034.38 L2143.03,1034.16 L2149.90,1033.95 L2156.77,1033.73 L2163.64,1033.52 L2170.50,1033.31 L2177.37,1033.10 L2184.24,1032.89 L2191.11,1032.68 L2197.98,1032.48 L2204.84,1032.27 L2211.71,1032.06 L2218.58,1031.86 L2225.45,1031.66 L2232.32,1031.46 L2239.19,1031.25 L2246.05,1031.05 L2252.92,1030.86 L2259.79,1030.66 L2266.66,1030.46 L2273.53,1030.27 L2280.40,1030.07 L2287.26,1029.88 L2294.13,1029.68 L2301.00,1029.49" fill="none" stroke="#2a2eec" stroke-opacity="0.3" stroke-width="4.4" stroke-linecap="round" stroke-linejoin="round"/>
<text transform="translate(1153.20,53.70) scale(1.0101,1)" x="-17.65 16.77 44.63 57.81 86.55 114.10 127.97 140.93 155.51 184.61 202.22 214.22 242.02" y="0" font-family="Liberation Sans, sans-serif" font-size="46.66" fill="#262626">Default Prior</text>
<text transform="translate(85.30,1260.66) scale(0.9619,1)" x="-11.55 12.94 26.40" y="0" font-family="Liberation Sans, sans-serif" font-size="41.53" fill="#262626">0.0</text>
<text transform="translate(85.60,1092.70) scale(0.9195,1)" x="-11.55 13.81 28.19" y="0" font-family="Liberation Sans, sans-serif" font-size="41.53" fill="#262626">0.5</text>
<text transform="translate(85.60,923.70) scale(0.9588,1)" x="-12.12 11.96 25.47" y="0" font-family="Liberation Sans, sans-serif" font-size="41.53" fill="#262626">1.0</text>
<text transform="translate(86.80,756.65) scale(0.9145,1)" x="-12.12 12.82 27.31" y="0" font-family="Liberation Sans, sans-serif" font-size="41.53" fill="#262626">1.5</text>
<text transform="translate(85.30,587.70) scale(0.9361,1)" x="-11.55 13.46 27.44" y="0" font-family="Liberation Sans, sans-serif" font-size="41.53" fill="#262626">2.0</text>
<text transform="translate(85.60,419.80) scale(0.8927,1)" x="-11.55 14.39 29.38" y="0" font-family="Liberation Sans, sans-serif" font-size="41.53" fill="#262626">2.5</text>
<text transform="translate(85.80,250.70) scale(0.9425,1)" x="-11.43 12.80 26.65" y="0" font-family="Liberation Sans, sans-serif" font-size="41.53" fill="#262626">3.0</text>
<text transform="translate(248.30,1341.80) scale(0.9570,1)" x="-11.55" y="0" font-family="Liberation Sans, sans-serif" font-size="41.53" fill="#262626">0</text>
<text transform="translate(658.50,1341.80) scale(0.9493,1)" x="-12.12" y="0" font-family="Liberation Sans, sans-serif" font-size="41.53" fill="#262626">1</text>
<text transform="translate(1068.90,1341.80) scale(0.8984,1)" x="-11.55" y="0" font-family="Liberation Sans, sans-serif" font-size="41.53" fill="#262626">2</text>
<text transform="translate(1480.30,1341.80) scale(0.9141,1)" x="-11.43" y="0" font-family="Liberation Sans, sans-serif" font-size="41.53" fill="#262626">3</text>
<text transform="translate(1891.25,1341.80) scale(0.9556,1)" x="-11.42" y="0" font-family="Liberation Sans, sans-serif" font-size="41.53" fill="#262626">4</text>
<text transform="translate(2301.00,1341.80) scale(0.9141,1)" x="-11.51" y="0" font-family="Liberation Sans, sans-serif" font-size="41.53" fill="#262626">5</text>
<text transform="translate(1274.20,1393.90) scale(1.0176,1)" x="-10.80" y="0" font-family="Liberation Sans, sans-serif" font-size="43.17" fill="#262626">x</text>
<text transform="translate(51.90,795.00) rotate(-90) scale(0.9682,1)" x="-14.72 13.63 42.75 58.50 86.57 101.42 130.54 146.30 172.57 197.14 214.10" y="0" font-family="Liberation Sans, sans-serif" font-size="44.17" fill="#262626">Saturated x</text>
</svg>
</body></html>
